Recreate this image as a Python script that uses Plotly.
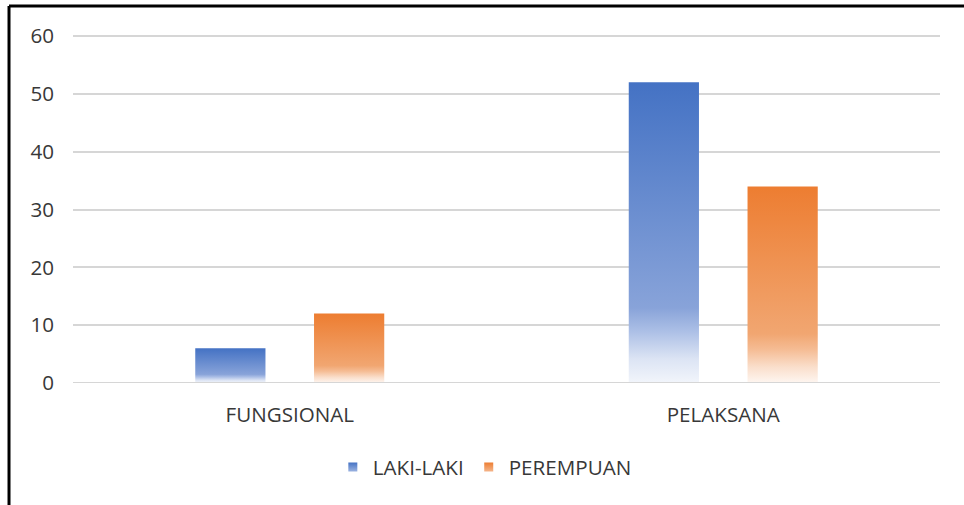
import plotly.graph_objects as go

# Chart data
categories = ["FUNGSIONAL", "PELAKSANA"]
series_names = ["LAKI-LAKI", "PEREMPUAN"]
laki_laki = [6, 52]
perempuan = [12, 34]
y_ticks = [0, 10, 20, 30, 40, 50, 60]

# Styling
BAR_WIDTH = 0.162
OFFSETS = [-0.137, 0.137]
FONT = "Open Sans"
FONT_SIZE = 20.6
TEXT_COLOR = "#383838"
GRID_COLOR = "#D6D6D6"
BLUE_SCALE = [
    [0.0, "#F2F5FB"],
    [0.08, "#DCE4F4"],
    [0.17, "#ADC0E6"],
    [0.25, "#88A3D9"],
    [1.0, "#4472C4"],
]
ORANGE_SCALE = [
    [0.0, "#FEF6F1"],
    [0.08, "#FADFCC"],
    [0.17, "#F5BC94"],
    [0.25, "#F1A671"],
    [1.0, "#ED7D31"],
]

series = [
    (series_names[0], laki_laki, BLUE_SCALE, "#4472C4", "#9AB2E0"),
    (series_names[1], perempuan, ORANGE_SCALE, "#ED7D31", "#F4B489"),
]

fig = go.Figure()

for s, (name, values, scale, top_color, low_color) in enumerate(series):
    # one filled rectangle per bar so each bar carries its own gradient
    for i, v in enumerate(values):
        x0 = i + OFFSETS[s] - BAR_WIDTH / 2
        x1 = x0 + BAR_WIDTH
        fig.add_trace(go.Scatter(
            x=[x0, x1, x1, x0, x0],
            y=[0, 0, v, v, 0],
            mode="lines",
            fill="toself",
            line=dict(width=0),
            fillgradient=dict(type="vertical", colorscale=scale),
            showlegend=False,
            hoverinfo="skip",
        ))
    # legend swatch
    fig.add_trace(go.Scatter(
        x=[None], y=[None],
        mode="markers",
        name=name,
        marker=dict(symbol="square", size=9, color=top_color,
                    line=dict(width=0),
                    gradient=dict(type="vertical", color=low_color)),
    ))

# zero line drawn over the bar bases
fig.add_shape(type="line", xref="paper", yref="y", x0=0, x1=1, y0=0, y1=0,
              line=dict(color=GRID_COLOR, width=2), layer="above")

# outer frame (top and left edges)
fig.add_shape(type="line", xref="paper", yref="paper",
              x0=-0.0738, x1=1.2, y0=1.0802, y1=1.0802,
              line=dict(color="black", width=3))
fig.add_shape(type="line", xref="paper", yref="paper",
              x0=-0.0738, x1=-0.0738, y0=1.0802, y1=-0.5,
              line=dict(color="black", width=3))

fig.update_layout(
    width=964, height=505,
    margin=dict(l=73, r=24, t=34, b=122),
    paper_bgcolor="white", plot_bgcolor="white",
    font=dict(family=FONT, size=FONT_SIZE, color=TEXT_COLOR),
    showlegend=True,
    legend=dict(orientation="h", x=0.475, xanchor="center",
                y=-0.2407, yanchor="middle",
                font=dict(family=FONT, size=FONT_SIZE, color=TEXT_COLOR)),
    xaxis=dict(range=[-0.5, 1.5], tickvals=[0, 1], ticktext=categories,
               showgrid=False, zeroline=False, showline=False,
               ticks="", ticklabelstandoff=17,
               tickfont=dict(family=FONT, size=FONT_SIZE, color=TEXT_COLOR)),
    yaxis=dict(range=[0, 60.35], tickvals=y_ticks,
               showgrid=True, gridcolor=GRID_COLOR, gridwidth=2,
               zeroline=False, showline=False, ticks="",
               ticklabelstandoff=18,
               tickfont=dict(family=FONT, size=FONT_SIZE, color=TEXT_COLOR)),
)

fig.write_html("out.html")
